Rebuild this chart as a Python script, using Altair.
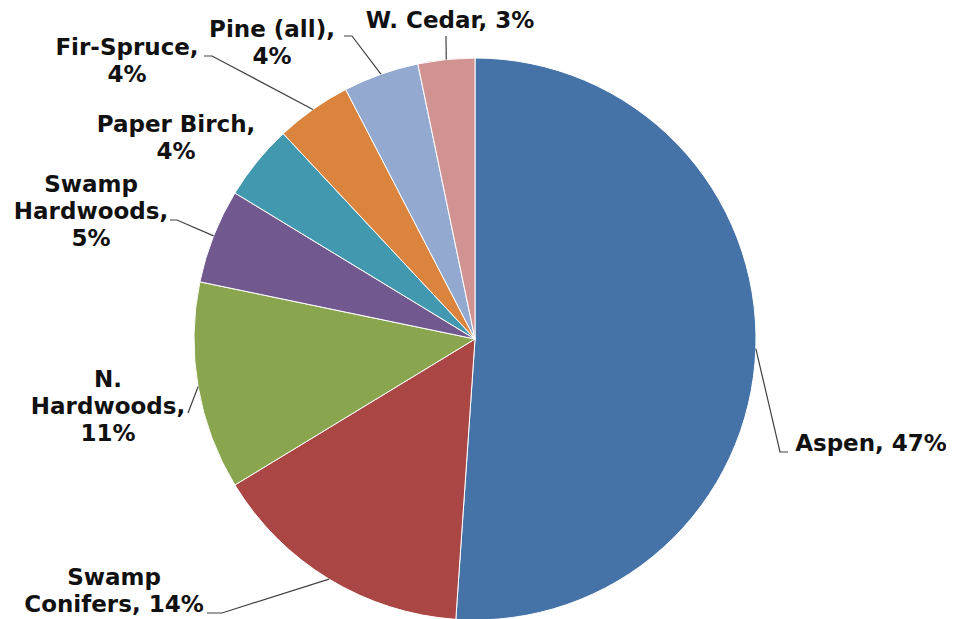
import math
import altair as alt
import pandas as pd

# ---- data ----
categories = ["Aspen", "Swamp Conifers", "N. Hardwoods", "Swamp Hardwoods",
              "Paper Birch", "Fir-Spruce", "Pine (all)", "W. Cedar"]
percent = [47, 14, 11, 5, 4, 4, 4, 3]
label_lines = ["Aspen, 47%", "Swamp\nConifers, 14%", "N.\nHardwoods,\n11%",
               "Swamp\nHardwoods,\n5%", "Paper Birch,\n4%", "Fir-Spruce,\n4%",
               "Pine (all),\n4%", "W. Cedar, 3%"]
colors = ["#4572A7", "#AA4643", "#89A54E", "#71588F",
          "#4198AF", "#DB843D", "#93A9CF", "#D19392"]

# ---- layout (pixels in plot area) ----
CX, CY, R = 467, 331, 281
label_pos = {            # centre x, first baseline y
    "Aspen": (863, 443),
    "Swamp Conifers": (106, 577),
    "N. Hardwoods": (100, 379),
    "Swamp Hardwoods": (83, 184),
    "Paper Birch": (168, 124),
    "Fir-Spruce": (119, 47),
    "Pine (all)": (264, 29),
    "W. Cedar": (442, 20),
}
leader_tail = {          # points after the arc anchor
    "Aspen": [(772, 444), (780, 444)],
    "Swamp Conifers": [(214, 605), (199, 605)],
    "N. Hardwoods": [(180, 405)],
    "Swamp Hardwoods": [(169, 212), (162, 212)],
    "Paper Birch": [],
    "Fir-Spruce": [(204, 48), (196, 48)],
    "Pine (all)": [(344, 28), (336, 28)],
    "W. Cedar": [(438, 28)],
}

df = pd.DataFrame({"category": categories, "value": percent,
                   "order": list(range(len(categories)))})

total = sum(percent)
cum = 0.0
lead_rows, text_rows = [], []
for cat, v, lab in zip(categories, percent, label_lines):
    mid = (cum + v / 2) / total * 2 * math.pi
    cum += v
    ax = CX + R * math.sin(mid)
    ay = CY - R * math.cos(mid)
    pts = [(ax, ay)] + leader_tail[cat]
    if len(pts) > 1:
        for i, (px, py) in enumerate(pts):
            lead_rows.append({"category": cat, "idx": i, "x": px, "y": py})
    lx, ly = label_pos[cat]
    text_rows.append({"category": cat, "label": lab, "lx": lx, "ly": ly})

lead_df = pd.DataFrame(lead_rows)
text_df = pd.DataFrame(text_rows)

pie = alt.Chart(df).mark_arc(radius=R, stroke="white", strokeWidth=1).encode(
    theta=alt.Theta("value:Q", stack=True),
    color=alt.Color("category:N", scale=alt.Scale(domain=categories, range=colors),
                    legend=None),
    order=alt.Order("order:Q", sort="ascending"),
    x=alt.value(CX),
    y=alt.value(CY),
)

leaders = alt.Chart(lead_df).mark_line(color="#404040", strokeWidth=1.2).encode(
    x=alt.X("x:Q", scale=None, axis=None),
    y=alt.Y("y:Q", scale=None, axis=None),
    detail="category:N",
    order="idx:Q",
)

labels = alt.Chart(text_df).mark_text(
    align="center", baseline="alphabetic", lineBreak="\n",
    font="DejaVu Sans", fontWeight="bold", fontSize=23, lineHeight=27,
    color="#111111",
).encode(
    x=alt.X("lx:Q", scale=None, axis=None),
    y=alt.Y("ly:Q", scale=None, axis=None),
    text="label:N",
)

chart = alt.layer(pie, leaders, labels).properties(
    width=938, height=611,
    autosize=alt.AutoSizeParams(type="none"),
    padding=0,
    background="white",
).configure_view(stroke=None)

chart.save("out.html", embed_options={"renderer": "svg", "actions": False})
